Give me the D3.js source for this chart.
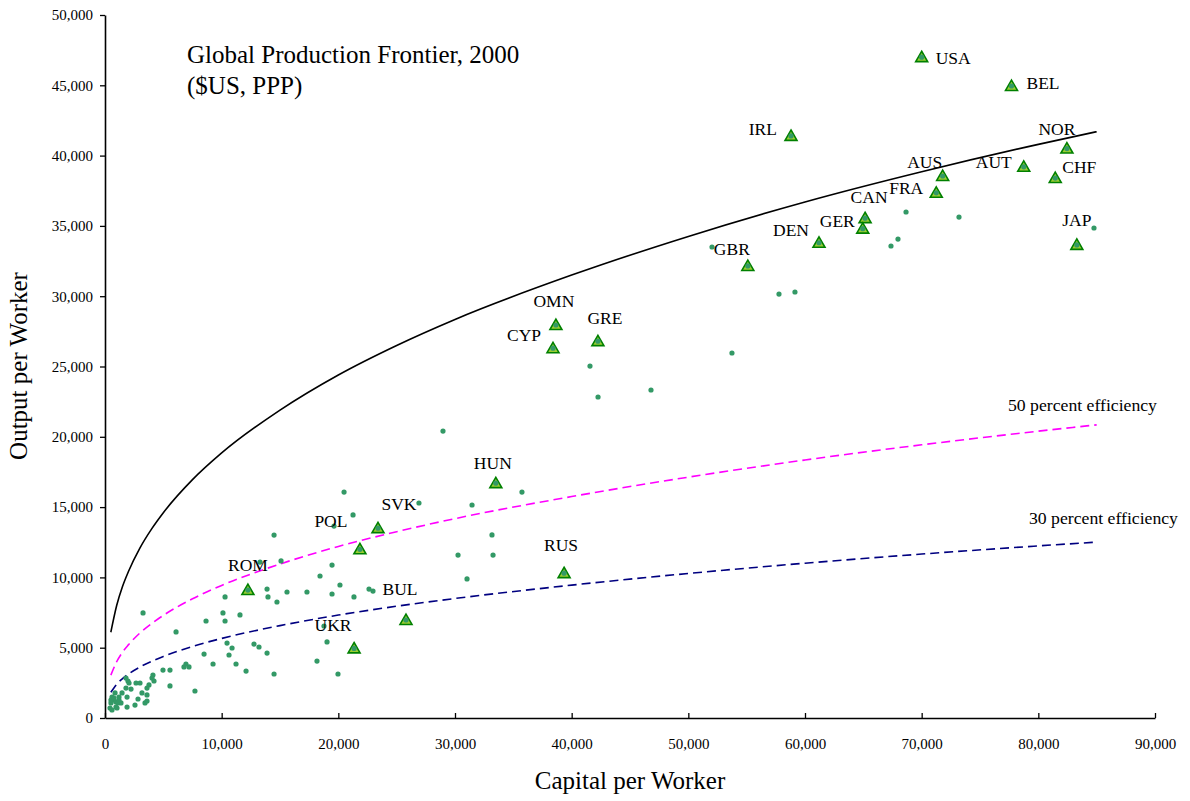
<!DOCTYPE html>
<html>
<head>
<meta charset="utf-8">
<script src="https://cdn.jsdelivr.net/npm/d3@7"></script>
<style>
  body { margin: 0; background: #fff; }
  text { font-family: "Liberation Serif", "Times New Roman", serif; fill: #000; }
</style>
</head>
<body>
<div class="chart"></div>
<script>
// labelled economies (capital per worker, output per worker)
const countries = ['USA', 'BEL', 'IRL', 'NOR', 'AUS', 'AUT', 'CHF', 'FRA', 'CAN', 'GER', 'DEN', 'JAP',
                   'GBR', 'OMN', 'CYP', 'GRE', 'HUN', 'SVK', 'POL', 'ROM', 'RUS', 'BUL', 'UKR'];
const countryK = [70000, 77700, 58800, 82450, 71800, 78750, 81450, 71250, 65150, 64950, 61200, 83300,
                  55100, 38650, 38400, 42250, 33500, 23400, 21850, 12250, 39350, 25800, 21350];
const countryY = [47000, 44950, 41400, 40500, 38550, 39200, 38400, 37350, 35550, 34800, 33800, 33650,
                  32150, 27950, 26300, 26800, 16700, 13500, 12000, 9100, 10300, 6970, 4950];

// all other economies
const otherK = [28970, 20490, 21260, 26910, 19630, 31460, 35740, 33170, 33260, 30260, 31030, 42260,
                41570, 46800, 52030, 53740, 57770, 59140, 67370, 67970, 68660, 73200, 84770, 13290,
                15090, 14490, 19460, 18430, 20140, 13890, 15600, 17310, 19460, 21340, 22630, 22970,
                10290, 13970, 14740, 10110, 11570, 8660, 10290, 18770, 10460, 10890, 12770, 13200,
                13890, 19030, 8490, 10630, 9260, 11230, 12090, 14490, 18170, 19970, 7710, 6090,
                3260, 4970, 5570, 6770, 6940, 7200, 5570, 4110, 4030, 4200, 3770, 3600,
                3170, 3600, 3430, 3600, 2830, 2570, 2660, 3000, 1800, 1970, 2060, 1800,
                2230, 1890, 1460, 1890, 1370, 1200, 860, 600, 690, 510, 940, 1110,
                430, 600, 940, 510, 770, 1030, 1200];
const otherY = [20410, 16070, 14440, 15290, 13650, 15150, 16070, 13020, 11590, 11590, 9890, 22830,
                25030, 23330, 33500, 25960, 30150, 30300, 33570, 34060, 35990, 35630, 34850, 11090,
                11170, 13010, 10880, 10100, 9460, 9170, 8960, 8960, 8820, 8610, 9170, 9030,
                8610, 8610, 8250, 7470, 7330, 6900, 6900, 6540, 5330, 4980, 5260, 5050,
                4620, 5410, 4550, 4480, 3840, 3840, 3340, 3130, 4050, 3130, 1920, 6120,
                7470, 3410, 3410, 3630, 3840, 3630, 2280, 3060, 2840, 2630, 2350, 2130,
                1780, 1640, 1070, 1210, 1350, 920, 2490, 2490, 2840, 2630, 2490, 2130,
                2060, 1490, 1780, 780, 1070, 1490, 1780, 1490, 1280, 1070, 1140, 1070,
                710, 570, 780, 1280, 1420, 710, 1280];

// frontier and efficiency curves
const curveK = [500, 1000, 1500, 2000, 3000, 4000, 5000, 7500, 10000, 15000, 20000, 25000,
                30000, 40000, 50000, 60000, 70000, 80000, 85000];
const frontierY = [6100, 8000, 9350, 10400, 12100, 13450, 14600, 16950, 18850, 21900, 24400, 26500,
                   28350, 31500, 34250, 36700, 38850, 40800, 41700];
const eff50Y = [3050, 4000, 4680, 5200, 6050, 6720, 7300, 8480, 9430, 10950, 12200, 13250,
                14180, 15750, 17130, 18350, 19430, 20400, 20850];
const eff30Y = [1830, 2400, 2800, 3120, 3630, 4030, 4380, 5090, 5660, 6570, 7320, 7950,
                8500, 9450, 10280, 11010, 11660, 12240, 12510];

const xTicks = d3.range(0, 90001, 10000);
const yTicks = d3.range(0, 50001, 5000);

// label placement around each triangle: anchor, dx, dy
const labelPos = {
  USA: ['start', 14, 1], BEL: ['start', 15, -3], IRL: ['end', -14, -7], NOR: ['middle', -10, -20],
  AUS: ['middle', -18, -14], AUT: ['end', -12, -5], CHF: ['start', 7, -11], FRA: ['end', -13, -5],
  CAN: ['middle', 4, -21], GER: ['end', -8, -8], DEN: ['end', -10, -13], JAP: ['middle', 0, -25],
  GBR: ['middle', -16, -17], OMN: ['middle', -2, -24], CYP: ['end', -12, -13], GRE: ['middle', 7, -23],
  HUN: ['middle', -3, -20], SVK: ['middle', 21, -24], POL: ['middle', -29, -28], ROM: ['middle', 0, -25],
  RUS: ['middle', -3, -28], BUL: ['middle', -6, -31], UKR: ['middle', -21, -24]
};

const W = 1190, H = 801;
const margin = ({top: 15, right: 35, bottom: 83, left: 105});

const svg = d3.select('.chart')
  .append('svg')
  .attr('width', W)
  .attr('height', H);

const xScale = d3.scaleLinear().domain([0, 90000]).range([margin.left, W - margin.right]);
const yScale = d3.scaleLinear().domain([0, 50000]).range([H - margin.bottom, margin.top]);

// curves
const line = d3.line()
  .x(d => xScale(d[0]))
  .y(d => yScale(d[1]))
  .curve(d3.curveMonotoneX);

svg.append('path')
  .datum(curveK.map((k, i) => [k, frontierY[i]]))
  .attr('d', line)
  .attr('fill', 'none')
  .attr('stroke', '#000')
  .attr('stroke-width', 1.6);

svg.append('path')
  .datum(curveK.map((k, i) => [k, eff50Y[i]]))
  .attr('d', line)
  .attr('fill', 'none')
  .attr('stroke', '#ff00ff')
  .attr('stroke-width', 1.6)
  .attr('stroke-dasharray', '9,5');

svg.append('path')
  .datum(curveK.map((k, i) => [k, eff30Y[i]]))
  .attr('d', line)
  .attr('fill', 'none')
  .attr('stroke', '#000080')
  .attr('stroke-width', 1.6)
  .attr('stroke-dasharray', '9,5');

// triangles for labelled economies
const labelled = countries.map((c, i) => ({name: c, k: countryK[i], y: countryY[i]}));

svg.selectAll('.tri')
  .data(labelled)
  .enter()
  .append('path')
  .attr('class', 'tri')
  .attr('d', d3.symbol().type(d3.symbolTriangle).size(62))
  .attr('transform', d => 'translate(' + xScale(d.k) + ',' + (yScale(d.y) + 1) + ')')
  .attr('fill', '#9acd32')
  .attr('stroke', '#008000')
  .attr('stroke-width', 1.6);

// small dots for every economy
const dots = otherK.map((k, i) => [k, otherY[i]]).concat(labelled.map(d => [d.k, d.y]));

svg.selectAll('.dot')
  .data(dots)
  .enter()
  .append('circle')
  .attr('class', 'dot')
  .attr('cx', d => xScale(d[0]))
  .attr('cy', d => yScale(d[1]))
  .attr('r', 2.6)
  .attr('fill', '#339966');

svg.selectAll('.lbl')
  .data(labelled)
  .enter()
  .append('text')
  .attr('class', 'lbl')
  .attr('x', d => xScale(d.k) + labelPos[d.name][1])
  .attr('y', d => yScale(d.y) + labelPos[d.name][2])
  .attr('dy', '0.35em')
  .attr('text-anchor', d => labelPos[d.name][0])
  .style('font-size', '17.5px')
  .text(d => d.name);

// axes
const xAxis = d3.axisBottom(xScale)
  .tickValues(xTicks)
  .tickSizeInner(-5)
  .tickSizeOuter(0)
  .tickPadding(20)
  .tickFormat(d3.format(','));

const yAxis = d3.axisLeft(yScale)
  .tickValues(yTicks)
  .tickSizeInner(5)
  .tickSizeOuter(0)
  .tickPadding(7)
  .tickFormat(d3.format(','));

const gx = svg.append('g')
  .attr('class', 'axis x-axis')
  .attr('transform', 'translate(0,' + (H - margin.bottom) + ')')
  .call(xAxis);

const gy = svg.append('g')
  .attr('class', 'axis y-axis')
  .attr('transform', 'translate(' + margin.left + ',0)')
  .call(yAxis);

[gx, gy].forEach(g => {
  g.select('.domain').attr('stroke', '#000').attr('stroke-width', 1.6);
  g.selectAll('.tick line').attr('stroke', '#000').attr('stroke-width', 1.3);
  g.selectAll('.tick text')
    .style('font-family', '"Liberation Serif", "Times New Roman", serif')
    .style('font-size', '15px')
    .attr('fill', '#000');
});

// titles
svg.append('text')
  .attr('x', 187)
  .attr('y', 63)
  .style('font-size', '25px')
  .text('Global Production Frontier, 2000');

svg.append('text')
  .attr('x', 187)
  .attr('y', 94)
  .style('font-size', '25px')
  .text('($US, PPP)');

svg.append('text')
  .attr('x', 1008)
  .attr('y', 411)
  .style('font-size', '17.7px')
  .text('50 percent efficiency');

svg.append('text')
  .attr('x', 1029)
  .attr('y', 524)
  .style('font-size', '17.7px')
  .text('30 percent efficiency');

svg.append('text')
  .attr('x', 630)
  .attr('y', 789)
  .attr('text-anchor', 'middle')
  .style('font-size', '25px')
  .text('Capital per Worker');

svg.append('text')
  .attr('transform', 'translate(27,366) rotate(-90)')
  .attr('text-anchor', 'middle')
  .style('font-size', '25px')
  .text('Output per Worker');
</script>
</body>
</html>
